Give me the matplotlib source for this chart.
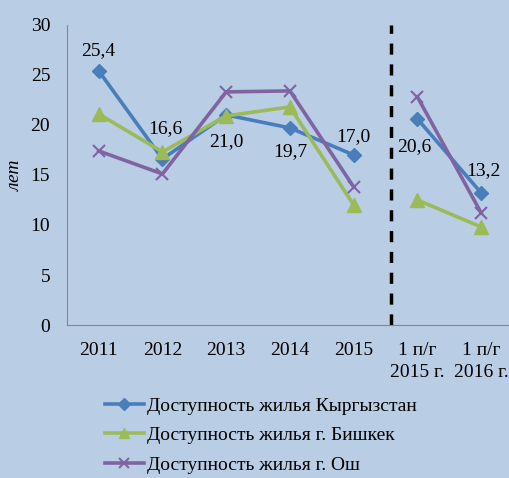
import matplotlib.pyplot as plt

periods = ["2011", "2012", "2013", "2014", "2015", "1 п/г\n2015 г.", "1 п/г\n2016 г."]
kyrgyzstan = [25.4, 16.6, 21.0, 19.7, 17.0, 20.6, 13.2]
bishkek = [21.1, 17.3, 20.9, 21.8, 12.0, 12.5, 9.8]
osh = [17.4, 15.1, 23.3, 23.4, 13.8, 22.8, 11.2]
kg_labels = ["25,4", "16,6", "21,0", "19,7", "17,0", "20,6", "13,2"]

names = ["Доступность жилья Кыргызстан",
         "Доступность жилья г. Бишкек",
         "Доступность жилья г. Ош"]

bg = "#B9CDE5"
plt.rcParams['font.family'] = ['Liberation Serif', 'DejaVu Serif']
fs = 14

fig = plt.figure(figsize=(5.10, 4.78), dpi=100, facecolor=bg)
ax = fig.add_axes([0.131, 0.32, 0.875, 0.628], facecolor=bg)

x = list(range(len(periods)))
seg1 = slice(0, 5)
seg2 = slice(5, 7)

styles = [
    (kyrgyzstan, "#4A7EBB", "D", 7.5, 1),
    (bishkek, "#9BBB59", "^", 10, 1),
    (osh, "#8064A2", "x", 9, 1.5),
]
handles = []
for (vals, col, mk, ms, mew), name in zip(styles, names):
    for s in (seg1, seg2):
        h, = ax.plot(x[s], vals[s], color=col, lw=2.6, marker=mk, ms=ms,
                     mew=mew, mec=col, mfc=col)
    handles.append(h)

# data labels for Kyrgyzstan
offsets = [(0, 20), (3, 30), (0, -27), (0, -24), (0, 18), (-3, -28), (2, 22)]
for xi, yi, lab, off in zip(x, kyrgyzstan, kg_labels, offsets):
    ax.annotate(lab, (xi, yi), xytext=off, textcoords='offset pixels',
                ha='center', va='center', fontsize=fs)

ax.axvline(4.58, color='black', lw=2.5, ls=(0, (3.2, 2.8)))

ax.set_xlim(-0.5, 6.5)
ax.set_ylim(0, 30)
ax.set_yticks(range(0, 31, 5))
ax.set_xticks(x)
ax.set_xticklabels(periods, fontsize=fs, linespacing=1.4)
ax.tick_params(axis='y', labelsize=fs, length=0, pad=12)
ax.tick_params(axis='x', length=0, pad=12)
for sp in ("top", "right"):
    ax.spines[sp].set_visible(False)
for sp in ("left", "bottom"):
    ax.spines[sp].set_color("#868686")
ax.set_ylabel("лет", fontsize=fs, style='italic')
ax.yaxis.set_label_coords(-0.095, 0.5)

fig.legend(handles, names, loc='upper left', bbox_to_anchor=(0.19, 0.185),
           frameon=False, fontsize=fs, numpoints=1, handlelength=2.0,
           handletextpad=0.2, labelspacing=0.6, borderaxespad=0,
           markerscale=0.75)

fig.savefig("out.png", dpi=100, facecolor=bg)
